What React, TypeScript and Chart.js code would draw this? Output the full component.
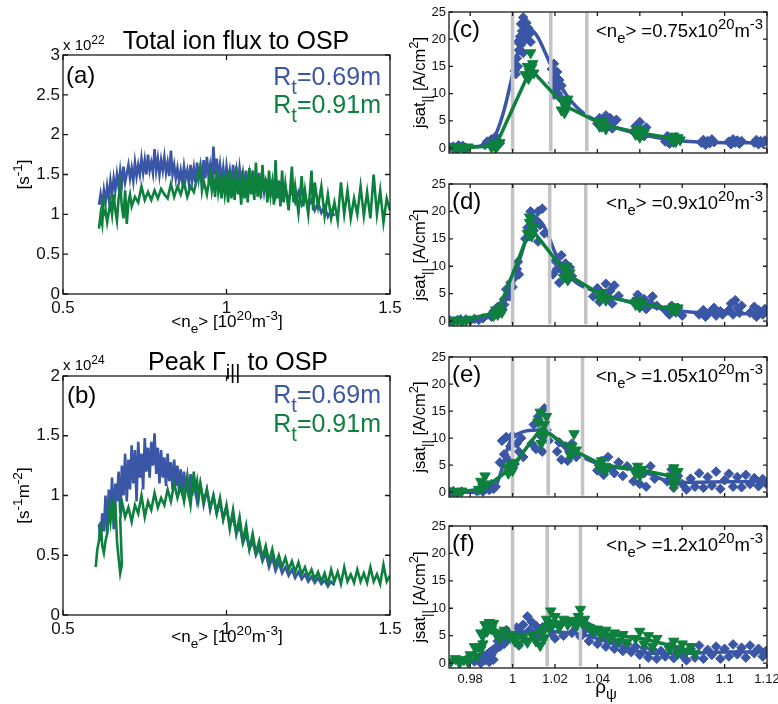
import React, { useEffect, useRef } from 'react';
import { Chart, registerables } from 'chart.js';
Chart.register(...registerables);

const BLUE = '#3a56a6';
const GREEN = '#0e803d';
const GRAY = '#c2c2c7';
const FONT = '"Liberation Sans", Arial, Helvetica, sans-serif';
const W = 778;
const H = 704;

type Pt = [number, number];

// ---------- (a) total ion flux vs <ne>  (x1e22 s^-1) ----------
const neTicks = [0.5, 1, 1.5];
const fluxTicks = [0, 0.5, 1, 1.5, 2, 2.5, 3];
const fluxBlue: Pt[] = [
  [0.61, 1.12], [0.615, 1.25], [0.62, 1.1], [0.625, 1.3], [0.63, 1.15], [0.635, 1.35], [0.64, 1.2], [0.645, 1.42],
  [0.65, 1.25], [0.655, 1.45], [0.66, 1.3], [0.665, 1.5], [0.67, 1.35], [0.675, 1.55], [0.68, 1.38], [0.685, 1.6],
  [0.69, 1.4], [0.7, 1.62], [0.705, 1.45], [0.71, 1.58], [0.715, 1.42], [0.72, 1.65], [0.725, 1.48], [0.73, 1.62],
  [0.735, 1.5], [0.74, 1.7], [0.745, 1.52], [0.75, 1.68], [0.755, 1.5], [0.76, 1.75], [0.765, 1.55], [0.77, 1.65],
  [0.775, 1.52], [0.78, 1.82], [0.785, 1.55], [0.79, 1.7], [0.795, 1.5], [0.8, 1.68], [0.805, 1.55], [0.81, 1.72],
  [0.815, 1.52], [0.82, 1.65], [0.825, 1.48], [0.83, 1.8], [0.835, 1.5], [0.84, 1.62], [0.845, 1.45], [0.85, 1.58],
  [0.855, 1.42], [0.86, 1.55], [0.865, 1.4], [0.87, 1.6], [0.875, 1.45], [0.88, 1.55], [0.885, 1.38], [0.89, 1.62],
  [0.895, 1.42], [0.9, 1.58], [0.905, 1.4], [0.91, 1.65], [0.915, 1.45], [0.92, 1.6], [0.925, 1.4], [0.93, 1.68],
  [0.935, 1.45], [0.94, 1.72], [0.945, 1.48], [0.95, 1.62], [0.955, 1.45], [0.96, 1.85], [0.965, 1.5], [0.97, 1.7],
  [0.975, 1.45], [0.98, 1.62], [0.985, 1.4], [0.99, 1.58], [0.995, 1.38], [1.0, 1.6], [1.005, 1.42], [1.01, 1.55],
  [1.015, 1.35], [1.02, 1.62], [1.025, 1.4], [1.03, 1.55], [1.035, 1.35], [1.04, 1.58], [1.045, 1.4], [1.05, 1.52],
  [1.055, 1.32], [1.06, 1.55], [1.065, 1.35], [1.07, 1.5], [1.075, 1.3], [1.08, 1.55], [1.085, 1.32], [1.09, 1.48],
  [1.095, 1.28], [1.1, 1.52], [1.105, 1.3], [1.11, 1.45], [1.115, 1.28], [1.12, 1.42], [1.13, 1.25], [1.14, 1.4],
  [1.15, 1.22], [1.16, 1.38], [1.17, 1.2], [1.18, 1.32], [1.19, 1.18], [1.2, 1.3], [1.21, 1.15], [1.22, 1.28],
  [1.23, 1.12], [1.24, 1.22], [1.25, 1.1], [1.26, 1.18], [1.27, 1.05], [1.28, 1.15], [1.29, 1.02], [1.3, 1.1],
  [1.31, 0.97], [1.32, 1.05], [1.33, 0.98],
];
const fluxGreen: Pt[] = [
  [0.61, 0.82], [0.615, 1.0], [0.62, 0.88], [0.625, 1.22], [0.62, 0.95], [0.63, 1.05], [0.635, 0.9], [0.645, 1.15],
  [0.65, 1.0], [0.655, 1.25], [0.66, 1.05], [0.665, 0.92], [0.67, 1.2], [0.675, 1.35], [0.68, 1.1], [0.685, 0.95],
  [0.69, 1.3], [0.695, 0.88], [0.7, 1.15], [0.705, 1.25], [0.71, 1.1], [0.72, 1.22], [0.73, 1.15], [0.74, 1.35],
  [0.75, 1.18], [0.76, 1.28], [0.77, 1.18], [0.78, 1.3], [0.79, 1.2], [0.8, 1.32], [0.81, 1.25], [0.82, 1.2],
  [0.83, 1.38], [0.84, 1.22], [0.85, 1.35], [0.86, 1.25], [0.87, 1.4], [0.88, 1.22], [0.89, 1.35], [0.9, 1.28],
  [0.91, 1.45], [0.92, 1.6], [0.925, 1.3], [0.93, 1.42], [0.94, 1.25], [0.95, 1.5], [0.955, 1.3], [0.96, 1.45],
  [0.965, 1.22], [0.97, 1.55], [0.975, 1.28], [0.98, 1.42], [0.985, 1.2], [0.99, 1.5], [0.995, 1.25], [1.0, 1.4],
  [1.005, 1.15], [1.01, 1.55], [1.015, 1.2], [1.02, 1.45], [1.025, 1.18], [1.03, 1.6], [1.035, 1.25], [1.04, 1.4],
  [1.045, 1.12], [1.05, 1.55], [1.055, 1.2], [1.06, 1.45], [1.065, 1.15], [1.07, 1.58], [1.075, 1.25], [1.08, 1.42],
  [1.085, 1.18], [1.09, 1.65], [1.095, 1.22], [1.1, 1.48], [1.105, 1.2], [1.11, 1.62], [1.115, 1.28], [1.12, 1.45],
  [1.125, 1.15], [1.13, 1.55], [1.135, 1.25], [1.14, 1.4], [1.145, 1.12], [1.15, 1.68], [1.155, 1.2], [1.16, 1.42],
  [1.165, 1.1], [1.17, 1.55], [1.175, 1.15], [1.18, 1.38], [1.19, 1.05], [1.2, 1.6], [1.205, 1.15], [1.21, 1.35],
  [1.22, 1.02], [1.23, 1.48], [1.235, 1.1], [1.24, 1.3], [1.25, 1.0], [1.26, 1.55], [1.265, 1.05], [1.27, 1.4],
  [1.28, 1.1], [1.29, 1.35], [1.3, 0.98], [1.31, 1.25], [1.32, 0.95], [1.33, 1.15], [1.34, 0.92], [1.35, 1.4],
  [1.36, 1.0], [1.37, 1.3], [1.38, 0.95], [1.39, 1.2], [1.4, 1.0], [1.41, 1.35], [1.42, 0.98], [1.43, 1.28],
  [1.44, 0.95], [1.45, 1.5], [1.46, 1.0], [1.47, 1.3], [1.48, 0.9], [1.49, 1.2], [1.5, 1.05],
];

// ---------- (b) peak parallel flux vs <ne> (x1e24 s^-1 m^-2) ----------
const peakTicks = [0, 0.5, 1, 1.5, 2];
const peakBlue: Pt[] = [
  [0.61, 0.76], [0.615, 0.62], [0.62, 0.85], [0.625, 0.7], [0.63, 1.0], [0.635, 0.68], [0.64, 1.05], [0.645, 0.8],
  [0.65, 1.15], [0.655, 0.72], [0.66, 1.1], [0.665, 0.95], [0.67, 1.2], [0.675, 0.85], [0.68, 1.25], [0.685, 1.0],
  [0.69, 1.35], [0.695, 0.95], [0.7, 1.3], [0.705, 1.05], [0.71, 1.42], [0.715, 1.1], [0.72, 1.38], [0.725, 0.95],
  [0.73, 1.45], [0.735, 1.15], [0.74, 1.35], [0.745, 1.05], [0.75, 1.48], [0.755, 1.2], [0.76, 1.4], [0.765, 1.15],
  [0.77, 1.45], [0.775, 1.25], [0.78, 1.52], [0.785, 1.18], [0.79, 1.4], [0.795, 1.1], [0.8, 1.38], [0.805, 1.15],
  [0.81, 1.32], [0.815, 1.08], [0.82, 1.35], [0.825, 1.12], [0.83, 1.28], [0.835, 1.05], [0.84, 1.3], [0.845, 1.08],
  [0.85, 1.25], [0.855, 1.02], [0.86, 1.22], [0.865, 1.0], [0.87, 1.2], [0.875, 1.05], [0.88, 1.15], [0.885, 0.98],
  [0.89, 1.18], [0.895, 1.0], [0.9, 1.12], [0.91, 0.95], [0.92, 1.1], [0.93, 0.92], [0.94, 1.05], [0.95, 0.88],
  [0.96, 1.0], [0.97, 0.85], [0.98, 0.95], [0.99, 0.8], [1.0, 0.9], [1.01, 0.75], [1.02, 0.82], [1.03, 0.68],
  [1.04, 0.75], [1.05, 0.6], [1.06, 0.68], [1.07, 0.55], [1.08, 0.62], [1.09, 0.5], [1.1, 0.56], [1.11, 0.45],
  [1.12, 0.52], [1.13, 0.4], [1.14, 0.48], [1.15, 0.37], [1.16, 0.44], [1.17, 0.35], [1.18, 0.4], [1.19, 0.33],
  [1.2, 0.38], [1.21, 0.31], [1.22, 0.36], [1.23, 0.3], [1.24, 0.34], [1.25, 0.28], [1.26, 0.32], [1.27, 0.27],
  [1.28, 0.31], [1.29, 0.26], [1.3, 0.29], [1.31, 0.24], [1.32, 0.28], [1.33, 0.25],
];
const peakGreen: Pt[] = [
  [0.6, 0.4], [0.605, 0.55], [0.61, 0.62], [0.615, 0.78], [0.62, 0.58], [0.625, 0.52], [0.63, 0.62], [0.635, 0.68],
  [0.64, 0.88], [0.645, 0.78], [0.65, 0.92], [0.655, 0.8], [0.66, 0.95], [0.665, 0.62], [0.67, 0.48], [0.675, 0.35],
  [0.68, 0.42], [0.675, 0.8], [0.68, 0.95], [0.69, 0.82], [0.7, 0.9], [0.71, 0.78], [0.72, 0.92], [0.73, 0.85],
  [0.74, 1.0], [0.75, 0.82], [0.76, 0.95], [0.77, 0.88], [0.78, 1.02], [0.79, 0.9], [0.8, 0.98], [0.81, 0.92],
  [0.82, 1.05], [0.83, 0.95], [0.84, 1.1], [0.85, 0.98], [0.86, 1.08], [0.87, 0.95], [0.88, 1.15], [0.885, 1.0],
  [0.89, 0.92], [0.9, 1.2], [0.905, 1.05], [0.91, 1.12], [0.915, 0.98], [0.92, 1.1], [0.93, 0.95], [0.94, 1.05],
  [0.95, 0.9], [0.96, 1.0], [0.97, 0.85], [0.98, 0.98], [0.99, 0.8], [1.0, 0.92], [1.01, 0.72], [1.02, 0.88],
  [1.03, 0.68], [1.04, 0.82], [1.05, 0.62], [1.06, 0.75], [1.07, 0.55], [1.08, 0.68], [1.09, 0.52], [1.1, 0.62],
  [1.11, 0.48], [1.12, 0.58], [1.13, 0.45], [1.14, 0.55], [1.15, 0.42], [1.16, 0.5], [1.17, 0.4], [1.18, 0.48],
  [1.19, 0.38], [1.2, 0.45], [1.21, 0.36], [1.22, 0.44], [1.23, 0.34], [1.24, 0.4], [1.25, 0.32], [1.26, 0.38],
  [1.27, 0.3], [1.28, 0.36], [1.29, 0.28], [1.3, 0.35], [1.31, 0.26], [1.32, 0.38], [1.33, 0.28], [1.34, 0.36],
  [1.35, 0.26], [1.36, 0.4], [1.37, 0.28], [1.38, 0.34], [1.39, 0.27], [1.4, 0.38], [1.41, 0.28], [1.42, 0.35],
  [1.43, 0.27], [1.44, 0.4], [1.45, 0.28], [1.46, 0.34], [1.47, 0.26], [1.48, 0.42], [1.49, 0.28], [1.5, 0.33],
];

// ---------- profiles jsat|| vs rho_psi ----------
const rhoTicks = [0.98, 1, 1.02, 1.04, 1.06, 1.08, 1.1, 1.12];
const jsatTicks = [0, 5, 10, 15, 20, 25];

// (c) <ne> = 0.75
const cBluePts: Pt[] = [
  [0.9705, 0.1], [0.972, 0.3], [0.9735, -0.1], [0.975, 0.2], [0.9765, 0.4], [0.978, 0.0], [0.9745, 0.5], [0.977, -0.2],
  [0.987, 0.6], [0.988, 1.2], [0.989, 0.8], [0.99, 1.6], [0.991, 1.0], [0.992, 2.1], [0.993, 1.4], [0.994, 0.9], [0.9905, 0.4],
  [1.001, 14.2], [1.0015, 13.6], [1.002, 16.5], [1.0025, 15.0], [1.003, 18.0], [1.0035, 20.5], [1.004, 19.0], [1.0045, 21.5],
  [1.005, 17.5], [1.0055, 22.5], [1.006, 20.0], [1.0065, 23.0], [1.005, 24.0], [1.0075, 22.0], [1.008, 21.0], [1.0085, 19.5],
  [1.0025, 19.5], [1.004, 22.8],
  [1.0185, 14.5], [1.019, 12.0], [1.0195, 15.5], [1.02, 13.0], [1.0205, 11.0], [1.021, 14.0], [1.0215, 10.0], [1.022, 12.5],
  [1.0225, 9.2], [1.023, 11.5], [1.0195, 9.8],
  [1.04, 4.5], [1.041, 5.5], [1.042, 3.8], [1.043, 5.0], [1.044, 6.0], [1.045, 4.2], [1.046, 5.5], [1.047, 3.6], [1.048, 4.8], [1.049, 5.2],
  [1.057, 3.0], [1.058, 4.0], [1.059, 2.4], [1.06, 4.8], [1.061, 3.2], [1.062, 2.2], [1.063, 3.8], [1.0595, 3.6],
  [1.072, 1.2], [1.073, 2.2], [1.074, 0.8], [1.075, 1.8], [1.076, 1.0], [1.077, 2.0],
  [1.089, 1.0], [1.09, 1.5], [1.091, 0.6], [1.092, 1.3], [1.093, 0.9], [1.094, 1.6], [1.095, 1.1],
  [1.102, 1.2], [1.103, 0.7], [1.104, 1.6], [1.105, 1.0], [1.106, 1.4], [1.107, 0.8], [1.108, 1.3],
  [1.114, 1.0], [1.115, 1.5], [1.116, 0.7], [1.117, 1.3], [1.118, 0.9], [1.119, 1.4],
];
const cGreenPts: Pt[] = [
  [0.972, 0.1], [0.974, -0.2], [0.975, 0.3], [0.977, 0.0], [0.979, 0.2],
  [0.99, 0.2], [0.991, 0.8], [0.992, 0.0], [0.993, 0.5], [0.994, 1.0],
  [1.006, 13.5], [1.007, 15.0], [1.008, 14.0], [1.009, 14.8], [1.01, 13.8], [1.0085, 17.5], [1.0075, 12.8], [1.0095, 15.5],
  [1.023, 7.0], [1.024, 8.5], [1.025, 7.5], [1.026, 9.0], [1.0245, 6.5], [1.0255, 8.0],
  [1.041, 4.0], [1.042, 5.0], [1.043, 4.2], [1.044, 3.5], [1.0425, 4.8],
  [1.058, 2.5], [1.059, 3.5], [1.06, 2.0], [1.061, 3.2], [1.062, 2.8],
  [1.075, 1.5], [1.076, 2.2], [1.077, 1.2], [1.078, 1.9], [1.079, 1.5],
];
const cBlueFit: Pt[] = [
  [0.97, 0.1], [0.98, 0.2], [0.988, 0.8], [0.992, 2.5], [0.996, 7], [1.0, 13.5], [1.003, 18.5], [1.006, 21.3], [1.009, 21.6],
  [1.012, 20.3], [1.016, 17], [1.02, 13.5], [1.025, 10], [1.03, 7.6], [1.035, 6], [1.04, 5], [1.05, 3.6], [1.06, 2.6],
  [1.07, 1.8], [1.08, 1.3], [1.09, 1.1], [1.1, 1.0], [1.12, 1.0],
];
const cGreenFit: Pt[] = [[0.974, 0], [0.992, 0.4], [1.0085, 14.5], [1.0245, 7.8], [1.0425, 4.3], [1.06, 2.8], [1.077, 1.7]];
const cSeparatrix = [1.0, 1.018, 1.035];

// (d) <ne> = 0.9
const dBluePts: Pt[] = [
  [0.9705, 0.1], [0.972, -0.1], [0.974, 0.2], [0.976, 0.0], [0.978, 0.3], [0.98, 0.1], [0.982, 0.4], [0.984, 0.2], [0.986, 0.5], [0.9755, 0.3],
  [0.99, 0.8], [0.991, 1.8], [0.992, 1.2], [0.993, 2.6], [0.994, 1.5], [0.995, 2.2], [0.996, 3.0],
  [0.996, 4.0], [0.997, 5.8], [0.998, 5.0], [0.999, 7.0], [1.0, 6.2], [1.001, 8.0], [1.002, 9.5], [1.003, 8.5], [1.0025, 10.8], [0.9985, 4.5],
  [1.006, 15.0], [1.007, 17.0], [1.008, 15.5], [1.009, 19.0], [1.01, 16.5], [1.011, 18.5], [1.012, 20.0], [1.013, 17.5],
  [1.014, 20.5], [1.015, 16.0], [1.0085, 20.0], [1.012, 14.5],
  [1.019, 8.5], [1.02, 11.0], [1.021, 9.5], [1.022, 7.0], [1.023, 12.0], [1.024, 9.0], [1.025, 10.5], [1.026, 7.5], [1.027, 9.8], [1.028, 8.2],
  [1.038, 4.5], [1.04, 6.0], [1.041, 3.5], [1.042, 5.2], [1.044, 6.8], [1.045, 4.0], [1.046, 5.5], [1.047, 3.2], [1.048, 6.5], [1.05, 4.6],
  [1.057, 3.5], [1.059, 4.8], [1.06, 2.5], [1.062, 4.0], [1.063, 2.2], [1.065, 3.2], [1.066, 4.5], [1.068, 2.8],
  [1.072, 2.0], [1.074, 1.2], [1.075, 2.8], [1.077, 1.6], [1.078, 2.4], [1.08, 1.0],
  [1.088, 1.2], [1.09, 2.0], [1.091, 0.8], [1.093, 1.6], [1.095, 2.4], [1.096, 1.0], [1.098, 1.8], [1.099, 1.2],
  [1.102, 2.0], [1.103, 3.2], [1.104, 1.2], [1.105, 3.8], [1.106, 2.4], [1.107, 1.5], [1.108, 2.8],
  [1.112, 1.5], [1.114, 2.6], [1.115, 0.8], [1.116, 2.0], [1.118, 1.2], [1.119, 2.2],
];
const dGreenPts: Pt[] = [
  [0.972, 0.0], [0.974, 0.2], [0.976, -0.1], [0.978, 0.1], [0.98, 0.3],
  [0.991, 1.0], [0.992, 2.0], [0.993, 1.2], [0.994, 2.4], [0.995, 1.6],
  [1.007, 16.0], [1.008, 18.0], [1.009, 15.5], [1.01, 17.2], [1.008, 19.0], [1.0095, 16.8],
  [1.024, 8.0], [1.025, 9.5], [1.026, 7.5], [1.027, 8.8], [1.0255, 10.0],
  [1.041, 4.2], [1.042, 5.2], [1.043, 4.5], [1.044, 3.8],
  [1.058, 3.0], [1.059, 3.8], [1.06, 2.6], [1.061, 3.4],
  [1.075, 2.0], [1.076, 2.6], [1.077, 1.8], [1.078, 2.4],
];
const dBlueFit: Pt[] = [
  [0.97, 0], [0.98, 0.1], [0.988, 0.6], [0.992, 2], [0.996, 4.5], [1.0, 7.5], [1.004, 12], [1.008, 17], [1.011, 18.6],
  [1.014, 17.8], [1.017, 15.5], [1.02, 12.5], [1.025, 9], [1.03, 7], [1.04, 5.3], [1.05, 4], [1.06, 3], [1.07, 2.3],
  [1.08, 1.8], [1.09, 1.5], [1.1, 1.4], [1.12, 1.3],
];
const dGreenFit: Pt[] = [[0.975, 0], [0.993, 1.6], [1.0085, 17], [1.0255, 8.6], [1.0425, 4.6], [1.0595, 3.2], [1.0765, 2.2]];
const dSeparatrix = [1.0, 1.0175, 1.0345];

// (e) <ne> = 1.05
const eBluePts: Pt[] = [
  [0.9705, 0.0], [0.972, 0.2], [0.974, -0.1], [0.976, 0.1],
  [0.983, 0.2], [0.985, 0.8], [0.986, 0.1], [0.988, 1.2], [0.989, 0.4], [0.99, 1.5], [0.991, 0.6], [0.992, 1.0],
  [0.994, 5.5], [0.995, 9.5], [0.996, 7.0], [0.997, 10.2], [0.998, 6.0], [0.999, 8.5], [1.0, 10.5], [1.001, 5.2],
  [1.002, 9.0], [1.003, 7.5], [1.004, 10.0], [1.005, 6.5],
  [1.009, 9.0], [1.01, 12.5], [1.011, 8.0], [1.012, 14.0], [1.013, 10.5], [1.014, 7.5], [1.015, 15.5], [1.016, 11.5], [1.017, 9.5], [1.0125, 13.0],
  [1.021, 7.5], [1.022, 9.2], [1.023, 6.0], [1.025, 8.5], [1.026, 5.8], [1.027, 7.8], [1.028, 9.0], [1.03, 6.5],
  [1.04, 4.0], [1.042, 5.8], [1.043, 3.2], [1.045, 6.5], [1.046, 4.5], [1.048, 3.5], [1.05, 5.5], [1.052, 3.0], [1.054, 4.8],
  [1.057, 2.0], [1.059, 4.5], [1.06, 1.5], [1.062, 3.5], [1.063, 1.0], [1.065, 4.8], [1.067, 2.5],
  [1.073, 2.0], [1.075, 4.2], [1.076, 0.8], [1.078, 3.0], [1.08, 1.5],
  [1.082, 0.5], [1.084, 2.5], [1.086, 1.0], [1.088, 3.5], [1.09, 0.8], [1.092, 2.8], [1.094, 1.2], [1.096, 3.8], [1.098, 0.6],
  [1.1, 2.2], [1.102, 3.4], [1.104, 1.0], [1.106, 2.8], [1.108, 0.9], [1.11, 3.2], [1.112, 1.5], [1.114, 2.6], [1.116, 1.1],
  [1.118, 2.4], [1.1195, 1.6],
];
const eGreenPts: Pt[] = [
  [0.972, 0.1], [0.974, -0.2], [0.976, 0.2],
  [0.984, 0.5], [0.985, 2.0], [0.986, 1.0], [0.987, 3.0], [0.988, 1.5],
  [0.998, 3.5], [0.999, 5.0], [1.0, 4.0], [1.001, 5.5], [0.9975, 4.5],
  [1.012, 13.0], [1.013, 14.8], [1.014, 11.0], [1.015, 12.5], [1.0135, 9.0], [1.0145, 10.2], [1.016, 14.0],
  [1.027, 7.0], [1.028, 8.5], [1.029, 10.8], [1.03, 7.8], [1.0275, 6.8],
  [1.041, 4.5], [1.042, 5.8], [1.043, 4.8], [1.044, 4.0],
  [1.058, 3.5], [1.059, 4.8], [1.06, 3.0], [1.061, 4.2],
  [1.075, 3.0], [1.076, 4.5], [1.077, 2.0], [1.078, 3.8], [1.076, 1.2],
];
const eBlueFit: Pt[] = [
  [0.97, 0], [0.984, 0], [0.992, 1.2], [1.0, 10.2], [1.013, 11.5], [1.028, 7.5], [1.042, 5], [1.06, 4.0], [1.077, 1.8], [1.1, 1.9], [1.12, 2],
];
const eGreenFit: Pt[] = [[0.973, 0], [0.986, 0.6], [0.999, 4.3], [1.0135, 11.8], [1.0285, 7.8], [1.0425, 5.0], [1.0595, 4.2], [1.0765, 2.8]];
const eSeparatrix = [1.0, 1.0168, 1.033];

// (f) <ne> = 1.2
const fBluePts: Pt[] = [
  [0.982, 0.3], [0.984, 1.0], [0.985, 0.0], [0.986, 1.4], [0.987, 0.5], [0.988, 1.2], [0.989, 0.2], [0.99, 1.5], [0.991, 0.6],
  [0.992, 2.5], [0.993, 4.0], [0.994, 3.0], [0.995, 5.5], [0.996, 3.5], [0.997, 6.0], [0.998, 4.5],
  [1.0, 4.0], [1.002, 6.5], [1.003, 3.2], [1.004, 5.5], [1.005, 7.0], [1.006, 4.2], [1.007, 8.5], [1.008, 6.0], [1.009, 7.5],
  [1.01, 4.5], [1.011, 6.8], [1.013, 5.0], [1.014, 6.5], [1.015, 4.2], [1.016, 7.0], [1.018, 5.5], [1.02, 4.5], [1.022, 6.8],
  [1.024, 5.0], [1.026, 7.2], [1.028, 5.5], [1.03, 6.5], [1.032, 4.8], [1.034, 6.0],
  [1.036, 4.0], [1.038, 5.2], [1.04, 3.5], [1.042, 4.6], [1.044, 3.0], [1.046, 4.2], [1.048, 2.6], [1.05, 3.8], [1.052, 2.2],
  [1.054, 3.5], [1.056, 2.0], [1.058, 3.0], [1.06, 1.5], [1.062, 2.8], [1.064, 1.0], [1.066, 2.5], [1.068, 0.8], [1.07, 2.2],
  [1.072, 1.2], [1.074, 3.0], [1.076, 0.9], [1.078, 2.4], [1.08, 1.4], [1.082, 0.5], [1.084, 2.6], [1.086, 1.0], [1.088, 3.2],
  [1.09, 0.8], [1.092, 2.4], [1.094, 1.5], [1.096, 3.0], [1.098, 0.8], [1.1, 2.6], [1.102, 1.2], [1.104, 3.4], [1.106, 1.6],
  [1.108, 2.8], [1.11, 1.0], [1.112, 3.2], [1.114, 1.8], [1.116, 2.6], [1.118, 1.2], [1.1195, 2.2],
];
const fGreenPts: Pt[] = [
  [0.971, 0.3], [0.973, 0.8], [0.975, 0.0], [0.977, 0.6], [0.979, 0.2],
  [0.98, 1.5], [0.982, 3.0], [0.983, 1.2], [0.985, 2.5], [0.986, 3.5],
  [0.985, 5.5], [0.987, 7.0], [0.988, 5.8], [0.989, 7.4], [0.99, 6.2], [0.991, 7.2], [0.992, 5.4],
  [0.994, 4.5], [0.996, 6.0], [0.998, 4.8], [1.0, 5.2], [1.001, 4.0],
  [1.003, 3.5], [1.005, 4.8], [1.007, 3.8], [1.009, 5.2], [1.011, 4.0], [1.013, 3.2], [1.015, 4.6],
  [1.014, 5.5], [1.016, 8.0], [1.017, 6.5], [1.018, 9.5], [1.019, 7.0], [1.02, 8.5],
  [1.022, 6.5], [1.024, 8.0], [1.026, 7.0], [1.028, 7.8], [1.03, 6.8], [1.031, 8.5], [1.032, 9.8], [1.033, 7.2], [1.034, 8.0],
  [1.036, 6.5], [1.038, 5.8], [1.04, 6.2], [1.042, 5.0], [1.044, 6.0], [1.046, 4.5], [1.048, 5.5], [1.05, 4.0], [1.052, 5.2], [1.054, 3.8],
  [1.058, 4.5], [1.06, 5.8], [1.062, 3.5], [1.064, 5.0], [1.066, 3.0], [1.068, 4.5],
  [1.074, 2.5], [1.076, 4.0], [1.078, 1.8], [1.08, 3.5], [1.082, 2.2], [1.084, 3.0], [1.086, 1.8],
];
const fBlueFit: Pt[] = [
  [0.983, 0.6], [0.994, 3.8], [1.006, 5.8], [1.02, 5.7], [1.035, 5.0], [1.05, 3.2], [1.065, 1.8], [1.08, 1.8], [1.1, 2.0], [1.12, 2.0],
];
const fGreenFit: Pt[] = [
  [0.974, 0.3], [0.983, 2.2], [0.989, 6.6], [0.997, 5.2], [1.008, 4.3], [1.017, 7.8], [1.026, 7.2], [1.032, 8.0],
  [1.045, 5.3], [1.062, 4.4], [1.079, 2.8],
];
const fSeparatrix = [1.0, 1.0163, 1.032];

// ---------- rich text helper ----------
type Seg = { t: string; s?: 'sub' | 'sup' };
type RichLabel = {
  x: number; y: number; segs: Seg[]; size: number; color?: string;
  align?: 'left' | 'center' | 'right'; rot?: number;
};

function drawRich(ctx: CanvasRenderingContext2D, lab: RichLabel) {
  const size = lab.size;
  const small = size * 0.8;
  ctx.save();
  ctx.translate(lab.x, lab.y);
  if (lab.rot) ctx.rotate(lab.rot);
  let total = 0;
  const widths = lab.segs.map((sg) => {
    ctx.font = `${sg.s ? small : size}px ${FONT}`;
    const w = ctx.measureText(sg.t).width;
    total += w;
    return w;
  });
  let x = lab.align === 'right' ? -total : lab.align === 'center' ? -total / 2 : 0;
  ctx.fillStyle = lab.color || '#000';
  ctx.textBaseline = 'alphabetic';
  ctx.textAlign = 'left';
  lab.segs.forEach((sg, i) => {
    ctx.font = `${sg.s ? small : size}px ${FONT}`;
    const dy = sg.s === 'sup' ? -size * 0.42 : sg.s === 'sub' ? size * 0.34 : 0;
    ctx.fillText(sg.t, x, dy);
    x += widths[i];
  });
  ctx.restore();
}

function makeOverlay(labels: RichLabel[], tickLen: number) {
  return {
    id: 'matlabOverlay',
    afterDatasetsDraw(chart: any) {
      const ctx: CanvasRenderingContext2D = chart.ctx;
      const a = chart.chartArea;
      const xs = chart.scales.x;
      const ys = chart.scales.y;
      ctx.save();
      ctx.strokeStyle = '#1a1a1a';
      ctx.lineWidth = 1.3;
      ctx.strokeRect(a.left, a.top, a.right - a.left, a.bottom - a.top);
      ctx.beginPath();
      xs.ticks.forEach((t: any) => {
        const p = xs.getPixelForValue(t.value);
        ctx.moveTo(p, a.bottom); ctx.lineTo(p, a.bottom - tickLen);
        ctx.moveTo(p, a.top); ctx.lineTo(p, a.top + tickLen);
      });
      ys.ticks.forEach((t: any) => {
        const p = ys.getPixelForValue(t.value);
        ctx.moveTo(a.left, p); ctx.lineTo(a.left + tickLen, p);
        ctx.moveTo(a.right, p); ctx.lineTo(a.right - tickLen, p);
      });
      ctx.stroke();
      labels.forEach((l) => drawRich(ctx, l));
      ctx.restore();
    },
  };
}

type Box = { l: number; t: number; r: number; b: number };
type PanelSpec = {
  box: Box; yW: number; xH: number;
  xMin: number; xMax: number; yMin: number; yMax: number;
  xTicks: number[]; yTicks: number[]; showX: boolean; tickFont: number; tickLen: number;
  datasets: any[]; labels: RichLabel[];
};

const xy = (pts: Pt[]) => pts.map(([x, y]) => ({ x, y }));

function buildConfig(s: PanelSpec): any {
  return {
    type: 'scatter',
    data: { datasets: s.datasets },
    options: {
      responsive: false,
      animation: false,
      devicePixelRatio: 1,
      events: [],
      layout: {
        autoPadding: false,
        padding: { left: s.box.l - s.yW, top: s.box.t, right: W - s.box.r, bottom: H - s.box.b - s.xH },
      },
      plugins: { legend: { display: false }, tooltip: { enabled: false }, title: { display: false } },
      scales: {
        x: {
          type: 'linear', min: s.xMin, max: s.xMax,
          grid: { display: false, drawTicks: false }, border: { display: false },
          afterBuildTicks: (sc: any) => { sc.ticks = s.xTicks.map((v) => ({ value: v })); },
          afterFit: (sc: any) => { sc.height = s.xH; sc.paddingLeft = 0; sc.paddingRight = 0; },
          ticks: {
            display: s.showX, padding: 4, maxRotation: 0, autoSkip: false, color: '#111',
            font: { family: FONT, size: s.tickFont }, callback: (v: number) => String(v),
          },
        },
        y: {
          type: 'linear', min: s.yMin, max: s.yMax,
          grid: { display: false, drawTicks: false }, border: { display: false },
          afterBuildTicks: (sc: any) => { sc.ticks = s.yTicks.map((v) => ({ value: v })); },
          afterFit: (sc: any) => { sc.width = s.yW; sc.paddingTop = 0; sc.paddingBottom = 0; },
          ticks: {
            padding: 3, autoSkip: false, color: '#111',
            font: { family: FONT, size: s.tickFont }, callback: (v: number) => String(v),
          },
        },
      },
    },
    plugins: [makeOverlay(s.labels, s.tickLen)],
  };
}

const traceDs = (pts: Pt[], color: string, order: number) => ({
  data: xy(pts), showLine: true, borderColor: color, borderWidth: 2.6, pointRadius: 0, tension: 0, order,
});

const neLabel = (x: number, y: number): RichLabel => ({
  x, y, size: 17, align: 'center',
  segs: [{ t: '<n' }, { t: 'e', s: 'sub' }, { t: '> [10' }, { t: '20', s: 'sup' }, { t: 'm' }, { t: '-3', s: 'sup' }, { t: ']' }],
});
const rtLabels = (right: number, y1: number, y2: number): RichLabel[] => [
  { x: right, y: y1, size: 25, align: 'right', color: BLUE, segs: [{ t: 'R' }, { t: 't', s: 'sub' }, { t: '=0.69m' }] },
  { x: right, y: y2, size: 25, align: 'right', color: GREEN, segs: [{ t: 'R' }, { t: 't', s: 'sub' }, { t: '=0.91m' }] },
];

const boxA: Box = { l: 63, t: 55, r: 390, b: 294 };
const boxB: Box = { l: 63, t: 376, r: 390, b: 615 };

const specA: PanelSpec = {
  box: boxA, yW: 45, xH: 25, xMin: 0.5, xMax: 1.5, yMin: 0, yMax: 3,
  xTicks: neTicks, yTicks: fluxTicks, showX: true, tickFont: 17, tickLen: 5,
  datasets: [traceDs(fluxGreen, GREEN, 0), traceDs(fluxBlue, BLUE, 1)],
  labels: [
    { x: 236, y: 49, size: 25, align: 'center', segs: [{ t: 'Total ion flux to OSP' }] },
    { x: 63, y: 50, size: 15, segs: [{ t: 'x 10' }, { t: '22', s: 'sup' }] },
    { x: 66, y: 83, size: 24, segs: [{ t: '(a)' }] },
    ...rtLabels(381, 85, 113),
    { x: 29, y: (boxA.t + boxA.b) / 2, size: 17, align: 'center', rot: -Math.PI / 2, segs: [{ t: '[s' }, { t: '-1', s: 'sup' }, { t: ']' }] },
    neLabel(227, 327),
  ],
};

const specB: PanelSpec = {
  box: boxB, yW: 45, xH: 25, xMin: 0.5, xMax: 1.5, yMin: 0, yMax: 2,
  xTicks: neTicks, yTicks: peakTicks, showX: true, tickFont: 17, tickLen: 5,
  datasets: [traceDs(peakGreen, GREEN, 0), traceDs(peakBlue, BLUE, 1)],
  labels: [
    { x: 238, y: 370, size: 25, align: 'center', segs: [{ t: 'Peak Γ' }, { t: 'i||', s: 'sub' }, { t: ' to OSP' }] },
    { x: 63, y: 370, size: 15, segs: [{ t: 'x 10' }, { t: '24', s: 'sup' }] },
    { x: 67, y: 403, size: 24, segs: [{ t: '(b)' }] },
    ...rtLabels(381, 403, 432),
    {
      x: 29, y: (boxB.t + boxB.b) / 2, size: 17, align: 'center', rot: -Math.PI / 2,
      segs: [{ t: '[s' }, { t: '-1', s: 'sup' }, { t: 'm' }, { t: '-2', s: 'sup' }, { t: ']' }],
    },
    neLabel(227, 642),
  ],
};

function profileSpec(
  box: Box, tag: string, neText: string, bluePts: Pt[], greenPts: Pt[], blueFit: Pt[], greenFit: Pt[],
  sep: number[], showX: boolean,
): PanelSpec {
  const labels: RichLabel[] = [
    { x: 452, y: box.t + 25, size: 24, segs: [{ t: tag }] },
    {
      x: 763, y: box.t + 24.5, size: 18.5, align: 'right',
      segs: [{ t: '<n' }, { t: 'e', s: 'sub' }, { t: '> =' + neText + 'x10' }, { t: '20', s: 'sup' }, { t: 'm' }, { t: '-3', s: 'sup' }],
    },
    {
      x: 425, y: (box.t + box.b) / 2, size: 16.5, align: 'center', rot: -Math.PI / 2,
      segs: [{ t: 'jsat' }, { t: '||', s: 'sub' }, { t: ' [A/cm' }, { t: '2', s: 'sup' }, { t: ']' }],
    },
  ];
  if (showX) labels.push({ x: 606, y: 693, size: 19, align: 'center', segs: [{ t: 'ρ' }, { t: 'ψ', s: 'sub' }] });
  const datasets: any[] = [
    {
      data: xy(greenFit), showLine: true, borderColor: GREEN, borderWidth: 3.5, pointRadius: 0, tension: 0, order: 0,
    },
    {
      data: xy(greenPts), showLine: false, pointStyle: 'triangle', pointRotation: 180, pointRadius: 6,
      backgroundColor: GREEN, borderColor: GREEN, borderWidth: 1, order: 1,
    },
    ...sep.map((v) => ({
      data: [{ x: v, y: -0.6 }, { x: v, y: 25 }], showLine: true, borderColor: GRAY, borderWidth: 3.5, pointRadius: 0, order: 2,
    })),
    {
      data: xy(blueFit), showLine: true, borderColor: BLUE, borderWidth: 3.5, pointRadius: 0,
      cubicInterpolationMode: 'monotone', order: 3,
    },
    {
      data: xy(bluePts), showLine: false, pointStyle: 'rectRot', pointRadius: 4.8,
      backgroundColor: BLUE, borderColor: BLUE, borderWidth: 1, order: 4,
    },
  ];
  return {
    box, yW: 40, xH: showX ? 22 : 0, xMin: 0.97, xMax: 1.12, yMin: -0.9, yMax: 25,
    xTicks: rhoTicks, yTicks: jsatTicks, showX, tickFont: 13, tickLen: 4, datasets, labels,
  };
}

const specs: PanelSpec[] = [
  specA,
  specB,
  profileSpec({ l: 449, t: 12, r: 767, b: 153 }, '(c)', '0.75', cBluePts, cGreenPts, cBlueFit, cGreenFit, cSeparatrix, false),
  profileSpec({ l: 449, t: 184, r: 767, b: 326 }, '(d)', '0.9', dBluePts, dGreenPts, dBlueFit, dGreenFit, dSeparatrix, false),
  profileSpec({ l: 449, t: 357, r: 767, b: 497 }, '(e)', '1.05', eBluePts, eGreenPts, eBlueFit, eGreenFit, eSeparatrix, false),
  profileSpec({ l: 449, t: 526, r: 767, b: 668 }, '(f)', '1.2', fBluePts, fGreenPts, fBlueFit, fGreenFit, fSeparatrix, true),
];

function Panel({ spec }: { spec: PanelSpec }) {
  const ref = useRef<HTMLCanvasElement | null>(null);
  useEffect(() => {
    if (!ref.current) return;
    const chart = new Chart(ref.current, buildConfig(spec));
    return () => chart.destroy();
  }, [spec]);
  return (
    <canvas
      ref={ref}
      width={W}
      height={H}
      style={{ position: 'absolute', left: 0, top: 0, width: W, height: H }}
    />
  );
}

export default function App() {
  return (
    <div style={{ position: 'absolute', left: 0, top: 0, width: W, height: H, background: '#fff' }}>
      {specs.map((s, i) => (
        <Panel key={i} spec={s} />
      ))}
    </div>
  );
}
